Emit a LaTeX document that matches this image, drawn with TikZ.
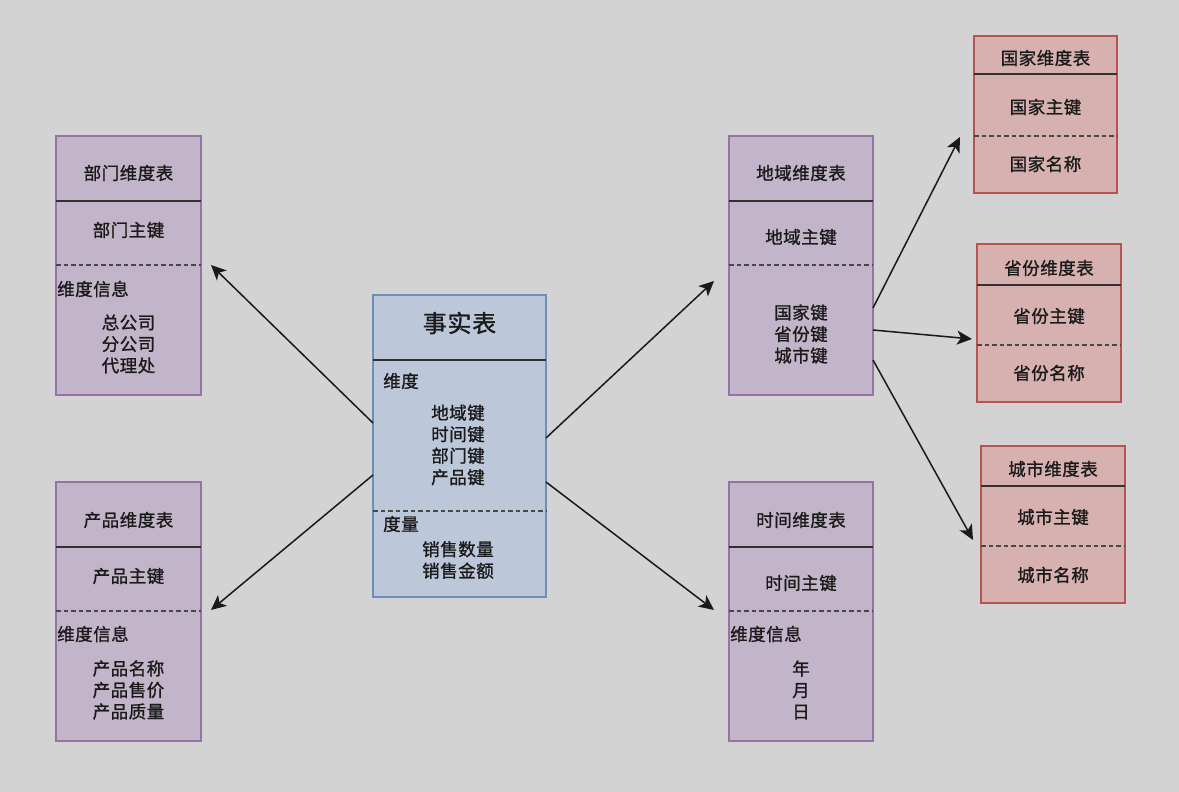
\documentclass[tikz,border=0pt]{standalone}
\usepackage{fontspec}
\newfontfamily\cjk[LetterSpace=3,FakeBold=1.1]{Noto Sans CJK SC}
\usetikzlibrary{arrows.meta}
\definecolor{bg}{HTML}{D3D3D3}
\definecolor{pfill}{HTML}{C3B5C9}
\definecolor{pdraw}{HTML}{9673A6}
\definecolor{bfill}{HTML}{BCC8DA}
\definecolor{bdraw}{HTML}{6C8EBF}
\definecolor{rfill}{HTML}{D7B1B0}
\definecolor{rdraw}{HTML}{B85450}
\definecolor{ink}{HTML}{1A1A1A}
\tikzset{
  tbl/.style={line width=1.3pt, inner sep=0pt, outer sep=0pt, anchor=north west},
  ptbl/.style={tbl, draw=pdraw, fill=pfill},
  btbl/.style={tbl, draw=bdraw, fill=bfill},
  rtbl/.style={tbl, draw=rdraw, fill=rfill},
  divsolid/.style={line width=1.8pt, draw=ink!90},
  divdash/.style={line width=1.2pt, draw=ink!80, dash pattern=on 4.5pt off 3pt},
  txt/.style={font=\cjk\fontsize{17.5}{21.5}\selectfont, text=ink, inner sep=0pt, align=center},
  ltxt/.style={txt, anchor=west},
  ttl/.style={font=\cjk\fontsize{24}{26}\selectfont, text=ink, inner sep=0pt},
  arr/.style={-{Stealth[length=15pt,width=14pt,inset=4pt]}, line width=1.5pt, draw=ink}
}
\begin{document}
\begin{tikzpicture}[x=1pt,y=-1pt]
\useasboundingbox (0,0) rectangle (1179,792);
\fill[bg] (0,0) rectangle (1179,792);

% fact table
\node[btbl, minimum width=173pt, minimum height=302pt] (fact) at (373,295) {};
\draw[divsolid] (373,360) -- (546,360);
\draw[divdash] (373,511) -- (546,511);
\node[ttl] (factT) at (459.5,323) {事实表};
\node[ltxt] (factD) at (383,381) {维度};
\node[txt] (factK) at (458,445) {地域键\\时间键\\部门键\\产品键};
\node[ltxt] (factM) at (383,524) {度量};
\node[txt] (factV) at (458,560) {销售数量\\销售金额};

% department
\node[ptbl, minimum width=145pt, minimum height=259pt] (dept) at (56,136) {};
\draw[divsolid] (56,201) -- (201,201);
\draw[divdash] (56,265) -- (201,265);
\node[txt] (deptT) at (128.5,173) {部门维度表};
\node[txt] (deptK) at (128.5,230) {部门主键};
\node[ltxt] (deptI) at (57,289) {维度信息};
\node[txt] (deptL) at (128.5,344) {总公司\\分公司\\代理处};

% product
\node[ptbl, minimum width=145pt, minimum height=259pt] (prod) at (56,482) {};
\draw[divsolid] (56,547) -- (201,547);
\draw[divdash] (56,611) -- (201,611);
\node[txt] (prodT) at (128.5,520) {产品维度表};
\node[txt] (prodK) at (128.5,576) {产品主键};
\node[ltxt] (prodI) at (57,634) {维度信息};
\node[txt] (prodL) at (128.5,690) {产品名称\\产品售价\\产品质量};

% area
\node[ptbl, minimum width=144pt, minimum height=259pt] (area) at (729,136) {};
\draw[divsolid] (729,201) -- (873,201);
\draw[divdash] (729,265) -- (873,265);
\node[txt] (areaT) at (801,173) {地域维度表};
\node[txt] (areaK) at (801,237) {地域主键};
\node[txt] (areaL) at (801,334) {国家键\\省份键\\城市键};

% time
\node[ptbl, minimum width=144pt, minimum height=259pt] (time) at (729,482) {};
\draw[divsolid] (729,547) -- (873,547);
\draw[divdash] (729,611) -- (873,611);
\node[txt] (timeT) at (801,520) {时间维度表};
\node[txt] (timeK) at (801,583) {时间主键};
\node[ltxt] (timeI) at (730,634) {维度信息};
\node[txt] (timeL) at (801,690) {年\\月\\日};

% country
\node[rtbl, minimum width=143pt, minimum height=157pt] (cty) at (974,36) {};
\draw[divsolid] (974,74) -- (1117,74);
\draw[divdash] (974,136) -- (1117,136);
\node[txt] (ctyT) at (1045.5,58) {国家维度表};
\node[txt] (ctyK) at (1045.5,107) {国家主键};
\node[txt] (ctyN) at (1045.5,164) {国家名称};

% province
\node[rtbl, minimum width=144pt, minimum height=158pt] (prv) at (977,244) {};
\draw[divsolid] (977,285) -- (1121,285);
\draw[divdash] (977,345) -- (1121,345);
\node[txt] (prvT) at (1049,268) {省份维度表};
\node[txt] (prvK) at (1049,316) {省份主键};
\node[txt] (prvN) at (1049,373) {省份名称};

% city
\node[rtbl, minimum width=144pt, minimum height=157pt] (city) at (981,446) {};
\draw[divsolid] (981,486) -- (1125,486);
\draw[divdash] (981,546) -- (1125,546);
\node[txt] (cityT) at (1053,469) {城市维度表};
\node[txt] (cityK) at (1053,517) {城市主键};
\node[txt] (cityN) at (1053,575) {城市名称};

% connector end points
\coordinate (f1) at (373,423);
\coordinate (f2) at (373,475);
\coordinate (f3) at (546,438);
\coordinate (f4) at (546,482);
\coordinate (d1) at (211,265);
\coordinate (d2) at (211,610);
\coordinate (d3) at (714,281);
\coordinate (d4) at (714,610);
\coordinate (a1) at (873,308);
\coordinate (a2) at (873,330);
\coordinate (a3) at (873,360);
\coordinate (c1) at (960,137);
\coordinate (c2) at (972,339);
\coordinate (c3) at (973,540);

\draw[arr] (f1) -- (d1);
\draw[arr] (f2) -- (d2);
\draw[arr] (f3) -- (d3);
\draw[arr] (f4) -- (d4);
\draw[arr] (a1) -- (c1);
\draw[arr] (a2) -- (c2);
\draw[arr] (a3) -- (c3);
\end{tikzpicture}
\end{document}
